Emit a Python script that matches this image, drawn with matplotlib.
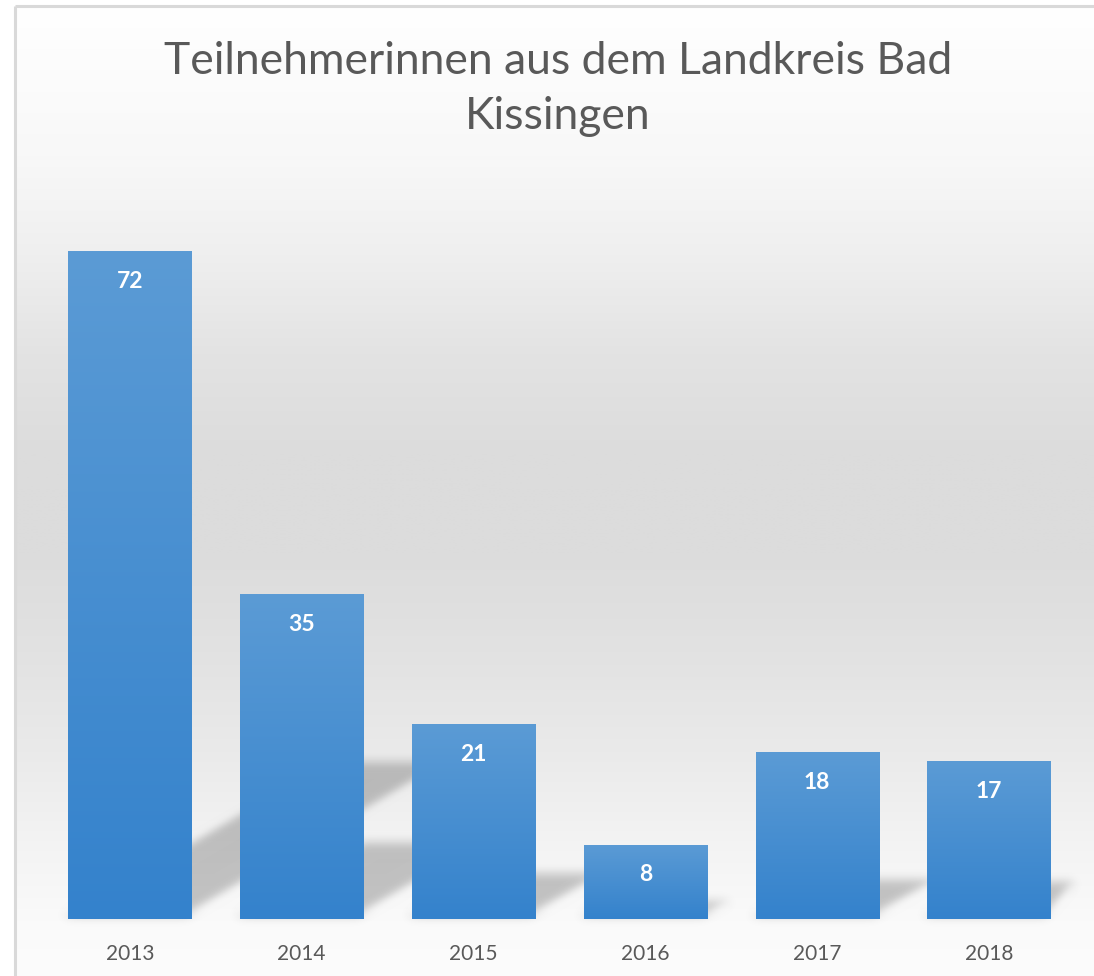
import numpy as np
import matplotlib
matplotlib.use("Agg")
import matplotlib.pyplot as plt
from matplotlib.colors import LinearSegmentedColormap
from matplotlib.patches import Polygon

# ---- data ----
years = ["2013", "2014", "2015", "2016", "2017", "2018"]
values = [72, 35, 21, 8, 18, 17]
title = "Teilnehmerinnen aus dem Landkreis Bad\nKissingen"

W, H = 1094, 976
DPI = 100
fig = plt.figure(figsize=(W / DPI, H / DPI), dpi=DPI)
fig.patch.set_facecolor("white")

# ---- background gradient (inside the chart frame) ----
bg = fig.add_axes([0, 0, 1, 1], zorder=-10)
bg.set_xlim(0, W)
bg.set_ylim(H, 0)
bg.axis("off")
ys = np.array([0, 150, 250, 350, 450, 550, 650, 750, 850, 920, 976])
gs = np.array([255, 248, 239, 227, 220, 220, 226, 234, 244, 250, 252]) / 255.0
yy = np.arange(H)
col = np.interp(yy, ys, gs)
grad = np.repeat(col[:, None], 2, axis=1)
grad_rgb = np.dstack([grad, grad, grad])
bg.imshow(grad_rgb, extent=[15, W, H, 6], aspect="auto", interpolation="bilinear")
bg.plot([15, 15], [6, H], color="#d9d9d9", lw=2.2, solid_capstyle="butt")
bg.plot([15, W], [6, 6], color="#d9d9d9", lw=2.2, solid_capstyle="butt")

# ---- main axes ----
left_px, right_px, top_px, base_px = 44, 1075, 177, 919
ax = fig.add_axes([left_px / W, (H - base_px) / H,
                   (right_px - left_px) / W, (base_px - top_px) / H])
ax.patch.set_alpha(0)
x = np.arange(len(years))
width = 0.717
ax.set_xlim(-0.5, len(years) - 0.5)
ax.set_ylim(0, 80)
for s in ax.spines.values():
    s.set_visible(False)
ax.set_yticks([])
ax.set_xticks(x)
ax.set_xticklabels(years, fontsize=15, color="#595959", family=["Lato", "DejaVu Sans"])
ax.tick_params(axis="x", length=0, pad=18)

# ---- blur filter for shadows ----
def make_blur(sigma):
    def filt(im, dpi):
        pad = int(3 * sigma) + 1
        im2 = np.pad(im, ((pad, pad), (pad, pad), (0, 0)))
        r = np.arange(-pad, pad + 1)
        k = np.exp(-0.5 * (r / sigma) ** 2)
        k /= k.sum()
        out = np.zeros_like(im2)
        for i, kv in zip(r, k):
            out += kv * np.roll(im2, i, axis=0)
        out2 = np.zeros_like(out)
        for i, kv in zip(r, k):
            out2 += kv * np.roll(out, i, axis=1)
        return out2, -pad, -pad
    return filt

fig.canvas.draw()
bbox = ax.get_window_extent()
sx = bbox.width / (ax.get_xlim()[1] - ax.get_xlim()[0])
sy = bbox.height / (ax.get_ylim()[1] - ax.get_ylim()[0])
kscale = 0.235
slope = 0.6
inset = 5 / sx
for xi, v in zip(x, values):
    hs = v * kscale
    dx = (hs * sy / slope) / sx
    xl, xr = xi - width / 2 - inset, xi + width / 2 - inset
    xmax = len(years) - 0.5
    pts = [[xl, 0.3], [min(xr, xmax), 0.3], [min(xr + dx, xmax), hs], [min(xl + dx, xmax), hs]]
    poly = Polygon(pts, closed=True, facecolor="black", alpha=0.22, edgecolor="none",
                   zorder=1, clip_on=False)
    poly.set_agg_filter(make_blur(5))
    ax.add_patch(poly)

# ---- bars with vertical gradient ----
cmap = LinearSegmentedColormap.from_list("barg", ["#3482cc", "#5b9bd5"])
bars = ax.bar(x, values, width=width, color="none", edgecolor="none", zorder=3)
gvec = np.linspace(0, 1, 256)[:, None]
for b, v in zip(bars, values):
    x0 = b.get_x()
    im = ax.imshow(gvec, cmap=cmap, origin="lower", aspect="auto",
                   extent=[x0, x0 + b.get_width(), 0, v], zorder=3,
                   interpolation="bilinear")
    im.set_clip_path(b)

ax.set_xlim(-0.5, len(years) - 0.5)
ax.set_ylim(0, 80)

# ---- data labels ----
for xi, v in zip(x, values):
    ax.annotate(str(v), (xi, v), xytext=(0, -21.6), textcoords="offset points",
                ha="center", va="center", fontsize=16.5, fontweight="bold",
                color="white", family=["Lato", "DejaVu Sans"], zorder=5)

# ---- title ----
fig.text(558 / W, 1 - 89 / H, title, ha="center", va="center", fontsize=32,
         color="#595959", family=["Lato", "DejaVu Sans"],
         linespacing=1.45)

fig.savefig("out.png", dpi=DPI)
